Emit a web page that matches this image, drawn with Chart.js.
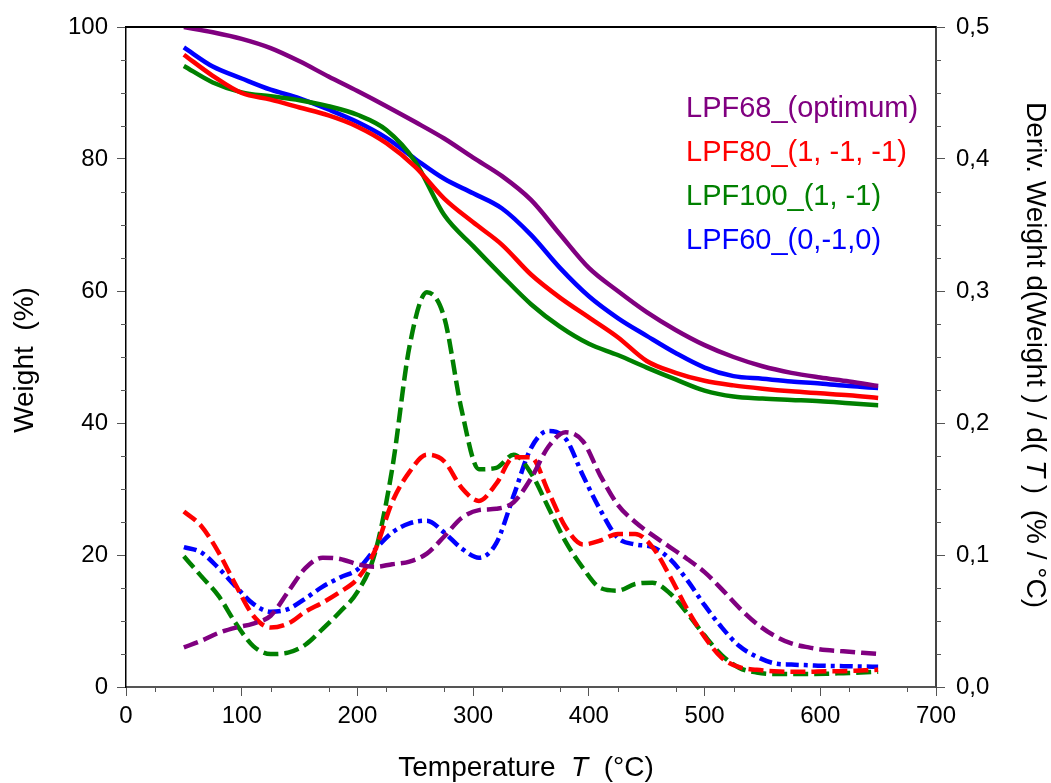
<!DOCTYPE html>
<html>
<head>
<meta charset="utf-8">
<script src="https://cdn.jsdelivr.net/npm/chart.js@4/dist/chart.umd.min.js"></script>
<style>
  html, body { margin: 0; padding: 0; background: #fff; }
</style>
</head>
<body>
<canvas id="tgaChart" width="1051" height="783"></canvas>
<script>
// temperatures (°C)
const tempTG = [50, 75, 100, 125, 150, 175, 200, 225, 250, 275, 300, 325, 350, 375, 400, 425, 450, 475, 500, 525, 550, 575, 600, 625, 650];
const tempDTG = [50, 65, 80, 95, 110, 125, 140, 155, 170, 185, 200, 215, 230, 245, 260, 275, 290, 305, 320, 335, 350, 365, 380, 395, 410, 425, 440, 455, 470, 485, 500, 515, 530, 545, 560, 575, 590, 605, 620, 635, 650];

const seriesNames = ['LPF68_(optimum)', 'LPF80_(1, -1, -1)', 'LPF100_(1, -1)', 'LPF60_(0,-1,0)'];

// weight (%)
const tgLPF68 = [100, 99.2, 98.2, 96.8, 94.8, 92.5, 90.3, 88, 85.6, 83.1, 80.2, 77.4, 73.8, 68.6, 63.5, 60, 56.8, 54.1, 51.8, 50, 48.6, 47.6, 46.9, 46.3, 45.6];
const tgLPF80 = [95.8, 92.6, 90, 89, 87.8, 86.6, 84.9, 82.4, 78.8, 74, 70.4, 67, 62.5, 59, 56, 53, 49.4, 47.6, 46.4, 45.7, 45.2, 44.8, 44.5, 44.2, 43.8];
const tgLPF100 = [94.1, 91.6, 90.1, 89.5, 88.9, 88, 86.7, 84.4, 79.6, 71.5, 66.8, 62.3, 58, 54.6, 52, 50.3, 48.4, 46.6, 44.9, 44, 43.7, 43.5, 43.3, 43, 42.7];
const tgLPF60 = [96.9, 94, 92.2, 90.5, 89.2, 87.5, 85.6, 83.2, 80, 77, 74.8, 72.5, 68.5, 63.5, 59.2, 55.9, 53.2, 50.6, 48.4, 47.1, 46.7, 46.3, 46, 45.6, 45.3];

// deriv. weight (% / °C)
const dtgLPF68 = [0.030, 0.035, 0.041, 0.045, 0.048, 0.054, 0.072, 0.090, 0.098, 0.097, 0.093, 0.091, 0.093, 0.095, 0.101, 0.114, 0.128, 0.134, 0.135, 0.140, 0.158, 0.182, 0.193, 0.186, 0.160, 0.138, 0.125, 0.115, 0.106, 0.097, 0.087, 0.074, 0.060, 0.048, 0.039, 0.033, 0.030, 0.028, 0.027, 0.026, 0.025];
const dtgLPF80 = [0.133, 0.122, 0.102, 0.077, 0.054, 0.045, 0.048, 0.057, 0.064, 0.072, 0.082, 0.103, 0.140, 0.163, 0.176, 0.171, 0.151, 0.141, 0.154, 0.174, 0.174, 0.148, 0.121, 0.108, 0.111, 0.116, 0.116, 0.106, 0.084, 0.059, 0.038, 0.022, 0.015, 0.013, 0.012, 0.0115, 0.0115, 0.012, 0.012, 0.0125, 0.013];
const dtgLPF100 = [0.099, 0.084, 0.069, 0.048, 0.031, 0.025, 0.026, 0.032, 0.044, 0.057, 0.072, 0.101, 0.165, 0.258, 0.299, 0.280, 0.210, 0.165, 0.166, 0.176, 0.162, 0.136, 0.110, 0.090, 0.075, 0.073, 0.078, 0.079, 0.071, 0.056, 0.039, 0.024, 0.0145, 0.011, 0.0098, 0.0098, 0.0098, 0.010, 0.0105, 0.011, 0.0116];
const dtgLPF60 = [0.106, 0.102, 0.090, 0.076, 0.063, 0.057, 0.059, 0.067, 0.076, 0.083, 0.089, 0.104, 0.117, 0.124, 0.126, 0.117, 0.105, 0.098, 0.109, 0.145, 0.181, 0.194, 0.188, 0.160, 0.134, 0.113, 0.108, 0.106, 0.097, 0.081, 0.062, 0.045, 0.031, 0.023, 0.018, 0.017, 0.0165, 0.016, 0.0158, 0.0155, 0.0154];

const colors = ['#800080', '#ff0000', '#008000', '#0000ff'];
const FONT = "'Liberation Sans', Arial, sans-serif";

function pts(xs, ys) {
  return xs.map((x, i) => ({ x: x, y: ys[i] }));
}

const tgSets = [tgLPF68, tgLPF80, tgLPF100, tgLPF60];
const dtgSets = [dtgLPF68, dtgLPF80, dtgLPF100, dtgLPF60];
const dashes = [[15, 6], [15, 6], [15, 6], [13, 5, 4, 5]];

const datasets = [];
dtgSets.forEach((d, i) => {
  datasets.push({
    label: seriesNames[i] + ' DTG',
    data: pts(tempDTG, d),
    yAxisID: 'y2',
    borderColor: colors[i],
    borderWidth: 4.5,
    borderDash: dashes[i],
    pointRadius: 0,
    cubicInterpolationMode: 'monotone',
    isLegend: false
  });
});
tgSets.forEach((d, i) => {
  datasets.push({
    label: seriesNames[i],
    data: pts(tempTG, d),
    yAxisID: 'y',
    borderColor: colors[i],
    borderWidth: 4.5,
    pointRadius: 0,
    cubicInterpolationMode: 'monotone',
    isLegend: true
  });
});

function fixWidth(w) {
  return function (scale) {
    scale.width = w;
    scale.paddingTop = 0; scale.paddingBottom = 0;
    scale.paddingLeft = 0; scale.paddingRight = 0;
  };
}

// short minor ticks, legend text, box top line and axis titles
const extras = {
  id: 'extras',
  afterDraw(chart) {
    const ctx = chart.ctx;
    const a = chart.chartArea;
    const sx = chart.scales.x, sy = chart.scales.y, sy2 = chart.scales.y2;
    ctx.save();

    ctx.strokeStyle = '#555';
    ctx.lineWidth = 1;
    ctx.beginPath();
    for (let v = 25; v < 700; v += 50) {
      const px = Math.round(sx.getPixelForValue(v)) + 0.5;
      ctx.moveTo(px, a.bottom); ctx.lineTo(px, a.bottom + 5);
    }
    for (let v = 5; v < 100; v += 5) {
      if (v % 20 === 0) continue;
      const py = Math.round(sy.getPixelForValue(v)) + 0.5;
      ctx.moveTo(a.left, py); ctx.lineTo(a.left - 5, py);
    }
    for (let k = 1; k < 20; k++) {
      if (k % 4 === 0) continue;
      const py = Math.round(sy2.getPixelForValue(k * 0.025)) + 0.5;
      ctx.moveTo(a.right, py); ctx.lineTo(a.right + 5, py);
    }
    ctx.stroke();

    ctx.strokeStyle = '#000';
    ctx.lineWidth = 2;
    ctx.beginPath();
    ctx.moveTo(a.left, a.top); ctx.lineTo(a.right, a.top);
    ctx.stroke();

    // legend
    ctx.font = '29px ' + FONT;
    ctx.textBaseline = 'middle';
    ctx.textAlign = 'left';
    let ly = 109;
    chart.data.datasets.forEach(ds => {
      if (!ds.isLegend) return;
      ctx.fillStyle = ds.borderColor;
      ctx.fillText(ds.label, 686, ly);
      ly += 44;
    });

    // axis titles
    ctx.fillStyle = '#000';
    ctx.textBaseline = 'middle';
    const drawMixed = (parts, cx, cy, rot) => {
      ctx.save();
      ctx.translate(cx, cy);
      ctx.rotate(rot);
      let total = 0;
      parts.forEach(p => { ctx.font = p[1] + '28px ' + FONT; total += ctx.measureText(p[0]).width; });
      let x = -total / 2;
      parts.forEach(p => {
        ctx.font = p[1] + '28px ' + FONT;
        ctx.fillText(p[0], x, 0);
        x += ctx.measureText(p[0]).width;
      });
      ctx.restore();
    };
    drawMixed([['Weight  (%)', '']], 25, 360, -Math.PI / 2);
    drawMixed([['Temperature  ', ''], ['T', 'italic '], ['  (°C)', '']], 526, 768, 0);
    drawMixed([['Deriv. Weight d(Weight ) / d( ', ''], ['T', 'italic '], [' )  (% / °C)', '']], 1035, 355, Math.PI / 2);

    ctx.restore();
  }
};

new Chart(document.getElementById('tgaChart').getContext('2d'), {
  type: 'line',
  data: { datasets: datasets },
  options: {
    responsive: false,
    animation: false,
    devicePixelRatio: 1,
    layout: { padding: { top: 27, left: 0, right: 0, bottom: 0 } },
    plugins: { legend: { display: false }, tooltip: { enabled: false } },
    scales: {
      x: {
        type: 'linear', min: 0, max: 700,
        ticks: { stepSize: 100, color: '#000', font: { family: FONT, size: 24 }, padding: 6, maxRotation: 0 },
        grid: { drawOnChartArea: false, tickLength: 9, tickColor: '#555', tickWidth: 1 },
        border: { color: '#555', width: 2 },
        afterFit(scale) {
          scale.height = 96;
          scale.paddingLeft = 0; scale.paddingRight = 0;
          scale.paddingTop = 0; scale.paddingBottom = 0;
        }
      },
      y: {
        position: 'left', min: 0, max: 100,
        ticks: { stepSize: 20, color: '#000', font: { family: FONT, size: 24 }, padding: 9 },
        grid: { drawOnChartArea: false, tickLength: 9, tickColor: '#555', tickWidth: 1 },
        border: { color: '#000', width: 1.5 },
        afterFit: fixWidth(126)
      },
      y2: {
        position: 'right', min: 0, max: 0.5,
        ticks: {
          stepSize: 0.1, color: '#000', font: { family: FONT, size: 24 }, padding: 11,
          callback: v => v.toFixed(1).replace('.', ',')
        },
        grid: { drawOnChartArea: false, tickLength: 9, tickColor: '#555', tickWidth: 1 },
        border: { color: '#444', width: 2 },
        afterFit: fixWidth(115)
      }
    }
  },
  plugins: [extras]
});
</script>
</body>
</html>
